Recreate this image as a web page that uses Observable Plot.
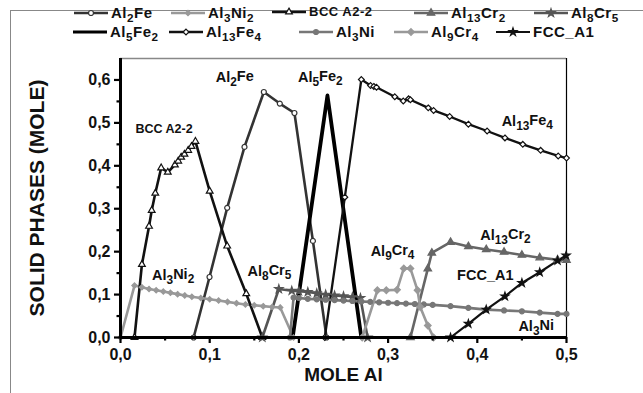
<!DOCTYPE html>
<html><head><meta charset="utf-8">
<script src="https://cdn.jsdelivr.net/npm/d3@7"></script>
<script src="https://cdn.jsdelivr.net/npm/@observablehq/plot@0.6"></script>
<style>
body{margin:0;background:#fff;font-family:"Liberation Sans",Arial,sans-serif;}
#wrap{position:relative;width:643px;height:393px;overflow:hidden;background:#fff;}
#frame{position:absolute;left:10px;top:10px;width:800px;height:600px;border-left:1px solid #888;border-top:1px solid #888;}
#chart{position:absolute;left:0;top:0;}
.li{position:absolute;display:flex;align-items:center;font-weight:bold;font-size:15px;white-space:nowrap;letter-spacing:0.5px;color:#111;}
.li svg{margin-right:2px;}
.sub{font-size:0.78em;position:relative;top:0.32em;}
</style></head>
<body><div id="wrap"><div id="frame"></div><div id="chart"></div></div>
<script>
// ---- data (x = mole Al, y = solid phase mole) ----
const al2FeX = [0.082, 0.0998, 0.1196, 0.139, 0.1607, 0.1786, 0.195, 0.2157, 0.231];
const al2FeY = [0, 0.141, 0.302, 0.444, 0.572, 0.545, 0.523, 0.225, 0];

const al3Ni2X = [0, 0.0157, 0.024, 0.032, 0.040, 0.048, 0.056, 0.064, 0.072, 0.080, 0.090, 0.100, 0.110, 0.120, 0.130, 0.140, 0.150, 0.160, 0.170, 0.179, 0.194];
const al3Ni2Y = [0, 0.121, 0.117, 0.113, 0.110, 0.107, 0.104, 0.101, 0.098, 0.095, 0.092, 0.089, 0.086, 0.083, 0.080, 0.077, 0.075, 0.073, 0.071, 0.070, 0];

const bccX = [0.0157, 0.024, 0.032, 0.035, 0.039, 0.0456, 0.053, 0.061, 0.0647, 0.068, 0.0717, 0.0759, 0.0796, 0.084, 0.100, 0.1196, 0.141, 0.159];
const bccY = [0, 0.170, 0.259, 0.296, 0.336, 0.395, 0.385, 0.402, 0.411, 0.420, 0.427, 0.436, 0.445, 0.457, 0.341, 0.213, 0.102, 0];

const al13Cr2X = [0.325, 0.3445, 0.349, 0.370, 0.390, 0.410, 0.430, 0.450, 0.470, 0.490, 0.500];
const al13Cr2Y = [0, 0.160, 0.197, 0.222, 0.212, 0.205, 0.199, 0.192, 0.186, 0.181, 0.180];

const al8Cr5X = [0.159, 0.1775, 0.192, 0.200, 0.210, 0.220, 0.230, 0.240, 0.250, 0.260, 0.269, 0.277];
const al8Cr5Y = [0, 0.113, 0.109, 0.108, 0.106, 0.103, 0.100, 0.098, 0.096, 0.094, 0.092, 0];

const al5Fe2X = [0.193, 0.232, 0.270];
const al5Fe2Y = [0, 0.564, 0];

const al13Fe4X = [0.229, 0.2515, 0.270, 0.2803, 0.284, 0.287, 0.3075, 0.317, 0.323, 0.325, 0.345, 0.351, 0.369, 0.390, 0.411, 0.431, 0.451, 0.471, 0.4907, 0.500];
const al13Fe4Y = [0, 0.327, 0.601, 0.587, 0.585, 0.583, 0.561, 0.551, 0.556, 0.554, 0.535, 0.529, 0.515, 0.497, 0.481, 0.465, 0.450, 0.436, 0.423, 0.418];

const al3NiX = [0.190, 0.194, 0.200, 0.210, 0.220, 0.230, 0.240, 0.250, 0.260, 0.270, 0.280, 0.290, 0.300, 0.310, 0.320, 0.330, 0.340, 0.350, 0.370, 0.390, 0.410, 0.430, 0.450, 0.470, 0.490, 0.500];
const al3NiY = [0, 0.093, 0.092, 0.090, 0.089, 0.088, 0.087, 0.086, 0.085, 0.084, 0.083, 0.082, 0.081, 0.080, 0.079, 0.078, 0.077, 0.076, 0.073, 0.069, 0.065, 0.063, 0.061, 0.058, 0.055, 0.055];

const al9Cr4X = [0.271, 0.288, 0.298, 0.310, 0.3176, 0.325, 0.333, 0.336, 0.3445, 0.351];
const al9Cr4Y = [0, 0.110, 0.110, 0.111, 0.161, 0.161, 0.110, 0.071, 0.028, 0];

const fccX = [0.370, 0.390, 0.410, 0.431, 0.450, 0.470, 0.490, 0.4996];
const fccY = [0, 0.032, 0.065, 0.096, 0.127, 0.152, 0.179, 0.191];

const xTicks = [0, 0.1, 0.2, 0.3, 0.4, 0.5];
const yTicks = [0, 0.1, 0.2, 0.3, 0.4, 0.5, 0.6];
const xMinor = [0.05, 0.15, 0.25, 0.35, 0.45];
const yMinor = [0.05, 0.15, 0.25, 0.35, 0.45, 0.55];

const labelText = ["Al₂Fe", "Al₅Fe₂", "BCC A2-2", "Al₁₃Fe₄", "Al₃Ni₂", "Al₈Cr₅", "Al₉Cr₄", "Al₁₃Cr₂", "FCC_A1", "Al₃Ni"];
const labelX = [0.128, 0.224, 0.0488, 0.456, 0.059, 0.167, 0.305, 0.4316, 0.409, 0.466];
const labelY = [0.606, 0.606, 0.485, 0.504, 0.1445, 0.154, 0.201, 0.238, 0.1445, 0.026];

// ---- styles ----
const series = [
  {name: "Al₂Fe", x: al2FeX, y: al2FeY, color: "#333", sw: 2.6, sym: "circle", fill: "#fff", r: 2.5},
  {name: "Al₃Ni₂", x: al3Ni2X, y: al3Ni2Y, color: "#999", sw: 2.6, sym: "diamond2", fill: "#999", r: 2.4},
  {name: "BCC A2-2", x: bccX, y: bccY, color: "#111", sw: 2.6, sym: "triangle", fill: "#fff", r: 2.5},
  {name: "Al₁₃Cr₂", x: al13Cr2X, y: al13Cr2Y, color: "#666", sw: 2.6, sym: "triangle", fill: "#666", r: 2.8},
  {name: "Al₈Cr₅", x: al8Cr5X, y: al8Cr5Y, color: "#555", sw: 2.6, sym: "star", fill: "#555", r: 2.6},
  {name: "Al₅Fe₂", x: al5Fe2X, y: al5Fe2Y, color: "#000", sw: 3.8, sym: null},
  {name: "Al₁₃Fe₄", x: al13Fe4X, y: al13Fe4Y, color: "#111", sw: 2.3, sym: "diamond2", fill: "#fff", r: 2.6},
  {name: "Al₃Ni", x: al3NiX, y: al3NiY, color: "#777", sw: 2.6, sym: "circle", fill: "#777", r: 2.5},
  {name: "Al₉Cr₄", x: al9Cr4X, y: al9Cr4Y, color: "#999", sw: 2.6, sym: "diamond2", fill: "#999", r: 3},
  {name: "FCC_A1", x: fccX, y: fccY, color: "#111", sw: 2.2, sym: "star", fill: "#111", r: 2.5}
];

const fmt = d => d.toFixed(1).replace(".", ",");
const marks = [];
for (const s of series) {
  const data = s.x.map((x, i) => ({x, y: s.y[i]}));
  marks.push(Plot.line(data, {x: "x", y: "y", stroke: s.color, strokeWidth: s.sw, strokeLinejoin: "round"}));
}
for (const s of series) {
  if (!s.sym) continue;
  const data = s.x.map((x, i) => ({x, y: s.y[i]}));
  marks.push(Plot.dot(data, {x: "x", y: "y", symbol: () => s.sym, r: s.r, fill: s.fill, stroke: s.color, strokeWidth: 1.2}));
}
const labels = labelText.map((t, i) => ({t, x: labelX[i], y: labelY[i]}));

const chart = Plot.plot({
  width: 643, height: 393,
  marginLeft: 120, marginRight: 77, marginTop: 58, marginBottom: 56,
  x: {domain: [0, 0.5]},
  y: {domain: [0, 0.65]},
  style: {fontFamily: "'Liberation Sans', Arial, sans-serif", background: "transparent"},
  marks: [
    Plot.ruleY([0.65], {stroke: "#888", strokeWidth: 1.5}),
    Plot.ruleX([0.5], {stroke: "#000", strokeWidth: 1.2}),
    ...marks,
    Plot.text(labels, {x: "x", y: "y", text: "t", fontSize: d => d.t === "BCC A2-2" ? 12.5 : 14.5, fontWeight: "bold", fill: "#111", letterSpacing: 0.4}),
    Plot.axisX({ticks: xTicks, tickFormat: fmt, tickSize: 6, tickPadding: 5, strokeWidth: 2.2, fontSize: 16, fontWeight: "bold", fill: "#111", letterSpacing: 0.8, label: null}),
    Plot.axisX({ticks: xMinor, tickFormat: () => "", tickSize: 3.5, strokeWidth: 2.2, label: null}),
    Plot.axisY({ticks: yTicks, tickFormat: fmt, tickSize: 6, tickPadding: 4, strokeWidth: 2.2, fontSize: 16, fontWeight: "bold", fill: "#111", letterSpacing: 0.8, label: null}),
    Plot.axisY({ticks: yMinor, tickFormat: () => "", tickSize: 3.5, strokeWidth: 2.2, label: null}),
    Plot.ruleY([0], {strokeWidth: 3, stroke: "#000"}),
    Plot.ruleX([0], {strokeWidth: 3, stroke: "#000"}),
    Plot.text(["SOLID PHASES (MOLE)"], {frameAnchor: "left", textAnchor: "middle", dx: -83, rotate: -90, fontSize: 21, fontWeight: "bold", fill: "#111"}),
    Plot.text(["MOLE Al"], {frameAnchor: "bottom", textAnchor: "middle", dy: 43, fontSize: 19, fontWeight: "bold", fill: "#111", letterSpacing: 4})
  ]
});
document.getElementById("chart").appendChild(chart);

// subscripts in svg texts
const subMap = {"₀":"0","₁":"1","₂":"2","₃":"3","₄":"4","₅":"5","₆":"6","₇":"7","₈":"8","₉":"9"};
chart.querySelectorAll("text").forEach(el => {
  const s = el.textContent;
  if (![...s].some(c => c in subMap)) return;
  while (el.firstChild) el.removeChild(el.firstChild);
  let runs = [];
  for (const c of s) {
    const isSub = c in subMap;
    const ch = isSub ? subMap[c] : c;
    if (runs.length && runs[runs.length - 1].sub === isSub) runs[runs.length - 1].t += ch;
    else runs.push({sub: isSub, t: ch});
  }
  let shifted = false;
  for (const r of runs) {
    const ts = document.createElementNS("http://www.w3.org/2000/svg", "tspan");
    ts.textContent = r.t;
    if (r.sub && !shifted) { ts.setAttribute("dy", "0.32em"); shifted = true; }
    else if (!r.sub && shifted) { ts.setAttribute("dy", "-0.32em"); shifted = false; }
    if (r.sub) ts.setAttribute("font-size", "82%");
    el.appendChild(ts);
  }
});

// legend
const legendItems = [
  {s: 0, left: 73, top: 4}, {s: 1, left: 170, top: 4}, {s: 2, left: 271, top: 4}, {s: 3, left: 413, top: 4}, {s: 4, left: 533, top: 4},
  {s: 5, left: 72, top: 23}, {s: 6, left: 168, top: 23}, {s: 7, left: 298, top: 23}, {s: 8, left: 393, top: 23}, {s: 9, left: 495, top: 23}
];
const wrap = document.getElementById("wrap");
const symMap = {circle: d3.symbolCircle, diamond2: d3.symbolDiamond2, triangle: d3.symbolTriangle, star: d3.symbolStar};
function htmlName(n) {
  let out = "";
  for (const c of n) out += (c in subMap) ? `<span class="sub">${subMap[c]}</span>` : c;
  return out;
}
for (const it of legendItems) {
  const s = series[it.s];
  const div = document.createElement("div");
  div.className = "li";
  div.style.left = it.left + "px";
  div.style.top = it.top + "px";
  const w = 36;
  let svg = `<svg width="${w}" height="12"><line x1="1" x2="${w - 1}" y1="6" y2="6" stroke="${s.color}" stroke-width="${Math.min(s.sw, 3)}"/>`;
  if (s.sym) {
    const r = s.r;
    const path = d3.symbol(symMap[s.sym], Math.PI * r * r)();
    svg += `<path d="${path}" transform="translate(${w / 2},6)" fill="${s.fill}" stroke="${s.color}" stroke-width="1.2"/>`;
  }
  svg += `</svg>`;
  div.innerHTML = svg + `<span${s.name.startsWith("BCC") ? ' style="font-size:13px"' : ''}>${htmlName(s.name)}</span>`;
  wrap.appendChild(div);
}
</script></body></html>
